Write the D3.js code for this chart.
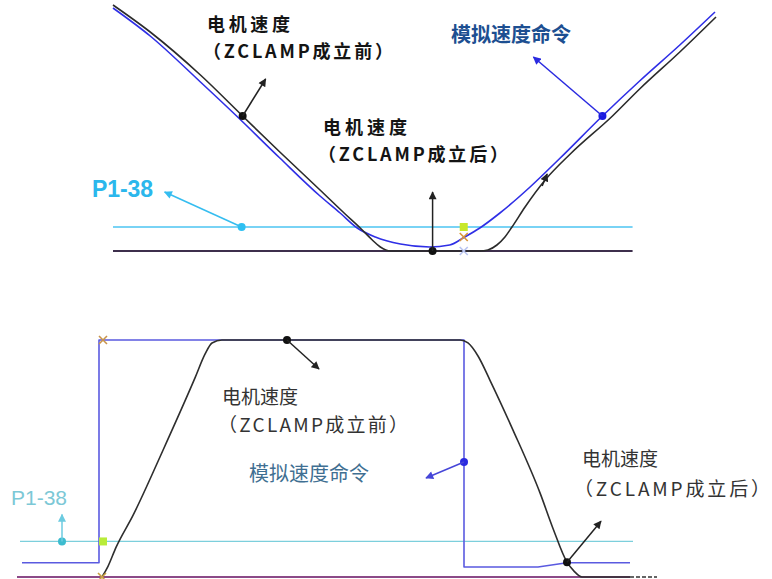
<!DOCTYPE html>
<html>
<head>
<meta charset="utf-8">
<script src="https://cdn.jsdelivr.net/npm/d3@7"></script>
<style>
  body { margin: 0; background: #fff; }
  text { font-family: "Noto Sans CJK SC", "Noto Sans", sans-serif; }
</style>
</head>
<body>
<svg id="grafico" width="772" height="579"></svg>
<script>
// Dados do gráfico de cima (tempo em ms, velocidade em rpm)
const cimaMotorT = [0, 37, 87, 129, 166, 206, 231, 246, 258, 266, 276, 365, 373, 382, 390, 397, 410, 430, 455, 497, 524, 564, 600];
const cimaMotorV = [2460, 2190, 1760, 1350, 990, 610, 370, 230, 110, 40, 0, 0, 10, 60, 140, 240, 440, 710, 970, 1350, 1620, 1990, 2340];
const cimaCmdT = [0, 37, 87, 123, 166, 206, 226, 243, 261, 286, 315, 335, 350, 365, 385, 415, 445, 487, 524, 564, 599];
const cimaCmdV = [2430, 2150, 1690, 1350, 930, 550, 380, 230, 140, 70, 40, 60, 140, 230, 380, 640, 930, 1350, 1700, 2060, 2390];
const cimaP138 = 240;
const cimaFimLinhas = 517;

// Dados do gráfico de baixo
const baixoMotorT = [84, 90, 98, 115, 145, 177, 187, 194, 204, 442, 450, 460, 472, 495, 522, 535, 549, 556, 564, 612];
const baixoMotorV = [0, 90, 250, 520, 1070, 1680, 1880, 1975, 2000, 2000, 1975, 1865, 1660, 1240, 710, 410, 125, 50, 0, 0];
const baixoCmdT = [4, 81, 81, 446, 446, 520, 549, 612];
const baixoCmdV = [120, 120, 2000, 2000, 85, 85, 120, 120];
const baixoP138 = 300;
const baixoFimLinhas = 615;

// Textos
const rotuloMotor = '电机速度';
const rotuloAntes = '（ZCLAMP成立前）';
const rotuloDepois = '（ZCLAMP成立后）';
const rotuloCmd = '模拟速度命令';
const rotuloP = 'P1-38';

const svg = d3.select('#grafico');

// Escalas
const xCima = d3.scaleLinear().domain([0, 600]).range([113, 716]);
const yCima = d3.scaleLinear().domain([0, 2460]).range([251, 5]);
const xBaixo = d3.scaleLinear().domain([0, 620]).range([18, 638]);
const yBaixo = d3.scaleLinear().domain([0, 2000]).range([577, 340]);

// Pontas de seta
function criaSeta(id, cor) {
  svg.append('defs').append('marker')
    .attr('id', id)
    .attr('viewBox', '0 0 10 10')
    .attr('refX', 9).attr('refY', 5)
    .attr('markerWidth', 9).attr('markerHeight', 8)
    .attr('markerUnits', 'userSpaceOnUse')
    .attr('orient', 'auto')
    .append('path')
    .attr('d', 'M0,0 L10,5 L0,10 Z')
    .attr('fill', cor);
}
criaSeta('seta-preta', '#222');
criaSeta('seta-azul', '#2a2ae0');
criaSeta('seta-ciano', '#35bdf0');
criaSeta('seta-azul2', '#4646d8');
criaSeta('seta-ciano2', '#6ccbe0');

function desenhaLinha(ts, vs, x, y, cor, largura, curva) {
  const pts = ts.map((t, i) => [t, vs[i]]);
  svg.append('path')
    .datum(pts)
    .attr('fill', 'none')
    .attr('stroke', cor)
    .attr('stroke-width', largura)
    .attr('stroke-linejoin', 'round')
    .attr('d', d3.line().x(d => x(d[0])).y(d => y(d[1])).curve(curva));
}

function linhaNivel(v, t0, t1, x, y, cor, largura, traco) {
  svg.append('line')
    .attr('x1', x(t0)).attr('x2', x(t1))
    .attr('y1', y(v)).attr('y2', y(v))
    .attr('stroke', cor)
    .attr('stroke-width', largura)
    .attr('stroke-dasharray', traco || null);
}

function ponto(px, py, cor, r) {
  svg.append('circle').attr('cx', px).attr('cy', py).attr('r', r || 4).attr('fill', cor);
}

function seta(px, py, dx, dy, cor, marcador) {
  svg.append('line')
    .attr('x1', px).attr('y1', py)
    .attr('x2', px + dx).attr('y2', py + dy)
    .attr('stroke', cor).attr('stroke-width', 1.5)
    .attr('marker-end', `url(#${marcador})`);
}

function marcaX(px, py, cor) {
  svg.append('path')
    .attr('d', `M${px - 4},${py - 4} L${px + 4},${py + 4} M${px - 4},${py + 4} L${px + 4},${py - 4}`)
    .attr('stroke', cor).attr('stroke-width', 1.6);
}

function marcaQuadrado(px, py, cor) {
  svg.append('rect').attr('x', px - 4).attr('y', py - 4).attr('width', 8).attr('height', 8).attr('fill', cor);
}

function texto(t, px, py, cfg) {
  const el = svg.append('text')
    .attr('x', px).attr('y', py)
    .attr('font-size', cfg.size)
    .attr('font-weight', cfg.weight || 400)
    .attr('fill', cfg.cor)
    .text(t);
  if (cfg.familia) el.style('font-family', cfg.familia);
  if (cfg.len) el.attr('textLength', cfg.len).attr('lengthAdjust', 'spacing');
  return el;
}

// ---------- Gráfico de cima ----------
linhaNivel(0, 0, cimaFimLinhas, xCima, yCima, '#3d2f4c', 2);
linhaNivel(cimaP138, 0, cimaFimLinhas, xCima, yCima, '#4cc4f2', 1.3);
desenhaLinha(cimaCmdT, cimaCmdV, xCima, yCima, '#2f2fe6', 1.6, d3.curveMonotoneX);
desenhaLinha(cimaMotorT, cimaMotorV, xCima, yCima, '#2b2b2b', 1.6, d3.curveMonotoneX);

// marcas do cursor
marcaQuadrado(xCima(349), yCima(cimaP138), '#c8e82a');
marcaX(xCima(349), yCima(140), '#d9943a');
marcaX(xCima(349), yCima(0), '#b8c4f0');

// anotações
ponto(xCima(129), yCima(1350), '#111');
seta(xCima(129), yCima(1350), 23, -37, '#222', 'seta-preta');
ponto(xCima(487), yCima(1350), '#1a1ae0');
seta(xCima(487), yCima(1350), -69, -59, '#2a2ae0', 'seta-azul');
ponto(xCima(128), yCima(cimaP138), '#2ec0f2');
seta(xCima(128), yCima(cimaP138), -77, -35, '#35bdf0', 'seta-ciano');
ponto(xCima(318), yCima(0), '#111');
seta(xCima(318), yCima(0), 0, -59, '#222', 'seta-preta');
seta(xCima(430) - 3, yCima(710) + 6, 5, -12, '#222', 'seta-preta');

const negrito = { size: 18, weight: 700, cor: '#141414' };
texto(rotuloMotor, 207, 31, Object.assign({ len: 83 }, negrito));
texto(rotuloAntes, 203, 57.5, Object.assign({ len: 190 }, negrito));
texto(rotuloMotor, 323, 134, Object.assign({ len: 84 }, negrito));
texto(rotuloDepois, 318, 160.5, Object.assign({ len: 190 }, negrito));
texto(rotuloCmd, 451, 42, { size: 20, weight: 700, cor: '#1d4f91' });
texto(rotuloP, 92, 197, { size: 23, weight: 700, cor: '#2bb7ec', familia: 'Liberation Sans', len: 61 });

// ---------- Gráfico de baixo ----------
linhaNivel(0, -1, 612, xBaixo, yBaixo, '#8c4a88', 2);
linhaNivel(0, 612, 639, xBaixo, yBaixo, '#333', 1.5, '4,2');
linhaNivel(baixoP138, 2, baixoFimLinhas, xBaixo, yBaixo, '#7ccfdc', 1.2);
desenhaLinha(baixoCmdT, baixoCmdV, xBaixo, yBaixo, '#5a5ae0', 1.6, d3.curveLinear);
desenhaLinha(baixoMotorT, baixoMotorV, xBaixo, yBaixo, '#2e2e2e', 1.6, d3.curveMonotoneX);

marcaX(xBaixo(85), yBaixo(2000), '#c9944a');
marcaQuadrado(xBaixo(85), yBaixo(baixoP138), '#b8ec3a');
marcaX(xBaixo(84), yBaixo(0), '#c9a040');

ponto(xBaixo(269), yBaixo(2000), '#111');
seta(xBaixo(269), yBaixo(2000), 32, 29, '#222', 'seta-preta');
ponto(xBaixo(446), yBaixo(970), '#2a2ae0');
seta(xBaixo(446), yBaixo(970), -38, 16, '#4646d8', 'seta-azul2');
ponto(xBaixo(44), yBaixo(baixoP138), '#3cbccf');
seta(xBaixo(44), yBaixo(baixoP138), 0, -27, '#6ccbe0', 'seta-ciano2');
ponto(xBaixo(549), yBaixo(125), '#111');
seta(xBaixo(549), yBaixo(125), 34, -41, '#222', 'seta-preta');

const normal = { size: 19, weight: 400, cor: '#333' };
texto(rotuloMotor, 222, 404, normal);
texto(rotuloAntes, 218, 432, Object.assign({ len: 190 }, normal));
texto(rotuloCmd, 249, 481, { size: 20, weight: 400, cor: '#3f6f92' });
texto(rotuloP, 11, 505, { size: 21, weight: 400, cor: '#7cc8d6', familia: 'Liberation Sans' });
texto(rotuloMotor, 582, 466, normal);
texto(rotuloDepois, 574, 496, Object.assign({ len: 196 }, normal));
</script>
</body>
</html>
